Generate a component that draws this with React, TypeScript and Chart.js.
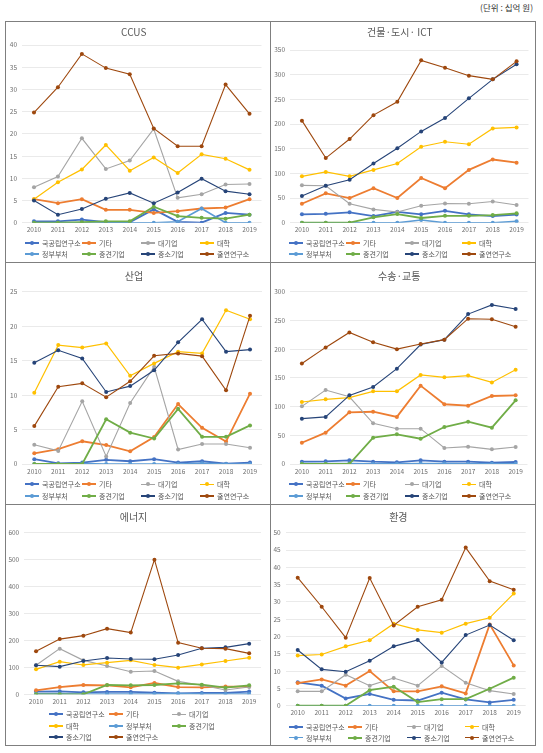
import React, { useEffect, useRef } from "react";
import { Chart, registerables } from "chart.js";

Chart.register(...registerables);

// ---------- data ----------
const years = ["2010", "2011", "2012", "2013", "2014", "2015", "2016", "2017", "2018", "2019"];
const seriesNames = ["국공립연구소", "기타", "대기업", "대학", "정부부처", "중견기업", "중소기업", "출연연구소"];
const seriesColors = ["#4472C4", "#ED7D31", "#A5A5A5", "#FFC000", "#5B9BD5", "#70AD47", "#264478", "#9E480E"];
const seriesWidths = [1.8, 1.8, 1.1, 1.2, 1.6, 1.8, 1.1, 1.1];
const unitText = "(단위 : 십억 원)";

// CCUS
const ccusNatLab = [0.3, 0.3, 0.7, 0.1, 0.1, 3.0, 0.2, 0.0, 2.2, 1.8];
const ccusEtc = [5.3, 4.4, 5.3, 2.9, 2.9, 2.2, 2.6, 3.2, 3.4, 5.3];
const ccusLarge = [8.0, 10.4, 19.0, 12.1, 14.0, 21.1, 5.6, 6.4, 8.6, 8.7];
const ccusUniv = [5.3, 9.1, 12.0, 17.5, 11.7, 14.7, 11.2, 15.4, 14.4, 11.9];
const ccusGov = [0, 0, 0, 0, 0, 0, 0.2, 3.2, 0, 0];
const ccusMid = [0, 0, 0.1, 0.3, 0.3, 3.6, 1.5, 1.1, 0.9, 1.8];
const ccusSme = [5.0, 1.8, 3.1, 5.4, 6.7, 4.4, 6.8, 9.9, 7.1, 6.4];
const ccusGri = [24.8, 30.5, 38.0, 34.8, 33.4, 21.2, 17.2, 17.2, 31.1, 24.5];

// 건물·도시·ICT
const bldNatLab = [17, 18, 21, 13.5, 22, 17, 24, 17, 13.5, 16.5];
const bldEtc = [38.5, 59.5, 50, 70, 50, 90.5, 70, 107, 128, 121.6];
const bldLarge = [75.7, 75, 38.5, 27, 21.6, 34.5, 39, 38.5, 43, 36];
const bldUniv = [94, 103, 94, 107, 120, 154, 164, 159, 191, 193];
const bldGov = [0, 0, 0, 0, 0, 5.4, 0, 0, 0, 3];
const bldMid = [0, 0, 0, 11, 17.5, 9.5, 14, 14, 15.5, 19];
const bldSme = [54, 75, 87, 120, 151, 185, 212, 252, 290.5, 321];
const bldGri = [206.8, 131, 169.6, 218, 245, 329, 314, 298, 290.5, 327];

// 산업
const indNatLab = [0.7, 0.1, 0.2, 0.6, 0.4, 0.7, 0.2, 0.4, 0.05, 0.2];
const indEtc = [1.55, 2.15, 3.3, 2.75, 1.85, 3.9, 8.7, 5.25, 3.25, 10.2];
const indLarge = [2.8, 1.9, 9.1, 1.1, 8.85, 14.1, 2.1, 2.9, 2.9, 2.35];
const indUniv = [10.35, 17.25, 16.9, 17.5, 12.8, 14.6, 16.3, 16.05, 22.3, 21.0];
const indGov = [0, 0, 0.05, 0, 0, 0, 0, 0.1, 0, 0];
const indMid = [0, 0, 0, 6.5, 4.55, 3.7, 8.0, 3.95, 3.95, 5.6];
const indSme = [14.7, 16.5, 15.3, 10.45, 11.3, 13.6, 17.65, 21.0, 16.3, 16.6];
const indGri = [5.5, 11.2, 11.7, 9.7, 12.0, 15.7, 16.05, 15.65, 10.7, 21.5];

// 수송·교통
const trnNatLab = [4, 4.6, 6.4, 4, 3, 6.4, 4, 4, 2.3, 3.5];
const trnEtc = [37, 54.5, 90, 91, 82, 136.4, 104, 101.5, 118.4, 119.5];
const trnLarge = [100.4, 128.8, 117, 70.8, 61.5, 61.5, 27.9, 30.2, 25.5, 29.6];
const trnUniv = [108, 112.6, 115.5, 126.5, 126.5, 155, 151, 154, 142, 164];
const trnGov = [1, 1, 1, 0.5, 0.5, 1, 1, 0.5, 0.5, 0.5];
const trnMid = [0, 0, 0, 45.8, 51.6, 44, 64.4, 73.7, 63.2, 110.8];
const trnSme = [79, 82, 119.5, 134, 166, 208, 216.5, 261, 277, 270];
const trnGri = [175, 203, 229, 212, 200, 209, 216.5, 253, 252, 239];

// 에너지
const enNatLab = [10, 11, 7.4, 8.7, 8.7, 6, 3.7, 5, 5, 10];
const enEtc = [14.8, 27, 34.6, 33.4, 26, 42, 27, 26, 28.5, 28.5];
const enLarge = [107.6, 169.5, 126, 105, 84, 86.6, 48, 33.4, 16, 27];
const enUniv = [92.8, 121, 108.9, 117.5, 126, 108.9, 99, 111, 123.7, 136];
const enGov = [2, 2, 1, 1, 1, 1, 3, 1, 1, 1];
const enMid = [0, 0, 0, 34.6, 33.4, 34.6, 40.8, 35.9, 24.7, 33.4];
const enSme = [107.6, 102.7, 123.7, 134.8, 131, 130, 146, 170.7, 174.4, 188];
const enGri = [159.6, 205, 217.7, 243.7, 229, 500, 191.8, 170.7, 169.5, 152];

// 환경
const envNatLab = [6.75, 5.8, 2.1, 3.4, 1.7, 1.5, 3.75, 1.8, 0.95, 1.7];
const envEtc = [6.55, 7.6, 5.8, 10, 4.15, 4.15, 5.6, 3.55, 23.5, 11.65];
const envLarge = [4.15, 4.15, 8.95, 5.8, 8.0, 5.8, 11.5, 6.65, 4.35, 3.4];
const envUniv = [14.5, 14.8, 17.15, 18.9, 23.7, 21.9, 21.1, 23.7, 25.4, 32.4];
const envGov = [0, 0, 0, 0, 0, 0, 0, 0, 0, 0];
const envMid = [0, 0, 0, 4.5, 5.5, 1.05, 1.9, 1.9, 4.9, 8.1];
const envSme = [16.1, 10.5, 9.8, 13, 17.15, 19, 12.5, 20.4, 23.3, 18.9];
const envGri = [37, 28.6, 19.65, 36.9, 23.2, 28.6, 30.6, 45.7, 36, 33.5];

// ---------- layout ----------
const FONT = "'Noto Sans CJK KR', 'Noto Sans', sans-serif";
const TEXT = "#595959";
const TICK = "#6e6e6e";

type PanelCfg = {
  title: string;
  series: number[][];
  max: number;
  step: number;
  box: { x: number; y: number; w: number; h: number };
  plot: { l: number; r: number; t: number; b: number };
  titleY: number;
  legendRows: number[];
  legendCols: number[];
};

const leftCols = [25, 82, 141, 200];
const rightCols = [289, 346, 405, 462];

const panels: PanelCfg[] = [
  {
    title: "CCUS",
    series: [ccusNatLab, ccusEtc, ccusLarge, ccusUniv, ccusGov, ccusMid, ccusSme, ccusGri],
    max: 40, step: 5,
    box: { x: 5, y: 21, w: 266, h: 242 },
    plot: { l: 22, r: 261.5, t: 45, b: 222.7 },
    titleY: 32,
    legendRows: [243, 254],
    legendCols: leftCols,
  },
  {
    title: "건물·도시· ICT",
    series: [bldNatLab, bldEtc, bldLarge, bldUniv, bldGov, bldMid, bldSme, bldGri],
    max: 350, step: 50,
    box: { x: 270, y: 21, w: 266, h: 242 },
    plot: { l: 290, r: 528.5, t: 50, b: 222.7 },
    titleY: 32,
    legendRows: [243, 254],
    legendCols: rightCols,
  },
  {
    title: "산업",
    series: [indNatLab, indEtc, indLarge, indUniv, indGov, indMid, indSme, indGri],
    max: 25, step: 5,
    box: { x: 5, y: 262, w: 266, h: 243 },
    plot: { l: 22.3, r: 262, t: 291.7, b: 464 },
    titleY: 276,
    legendRows: [484.3, 496],
    legendCols: leftCols,
  },
  {
    title: "수송·교통",
    series: [trnNatLab, trnEtc, trnLarge, trnUniv, trnGov, trnMid, trnSme, trnGri],
    max: 300, step: 50,
    box: { x: 270, y: 262, w: 266, h: 243 },
    plot: { l: 290, r: 527.5, t: 291.7, b: 464 },
    titleY: 276,
    legendRows: [484.3, 496],
    legendCols: rightCols,
  },
  {
    title: "에너지",
    series: [enNatLab, enEtc, enLarge, enUniv, enGov, enMid, enSme, enGri],
    max: 600, step: 100,
    box: { x: 5, y: 504, w: 266, h: 242 },
    plot: { l: 24.2, r: 261, t: 532.7, b: 694.3 },
    titleY: 517.7,
    legendRows: [714.3, 726, 737],
    legendCols: [49, 109, 172],
  },
  {
    title: "환경",
    series: [envNatLab, envEtc, envLarge, envUniv, envGov, envMid, envSme, envGri],
    max: 50, step: 5,
    box: { x: 270, y: 504, w: 266, h: 242 },
    plot: { l: 285.7, r: 525.7, t: 532.7, b: 705.7 },
    titleY: 517.7,
    legendRows: [726.7, 737.7],
    legendCols: [289, 348, 407, 465],
  },
];

function Panel({ cfg }: { cfg: PanelCfg }) {
  const ref = useRef<HTMLCanvasElement>(null);
  const cL = cfg.box.x + 1;
  const cT = cfg.box.y + 1;
  const cW = cfg.box.w - 2;
  const cH = cfg.box.h - 2;

  useEffect(() => {
    if (!ref.current) return;
    const lineH = 12;
    const xAxisH = 14;
    const tPadTop = cfg.titleY - cT - lineH / 2;
    const tPadBottom = cfg.plot.t - cT - lineH - tPadTop;
    const chart = new Chart(ref.current, {
      type: "line",
      data: {
        labels: years,
        datasets: cfg.series.map((d, i) => ({
          label: seriesNames[i],
          data: d,
          borderColor: seriesColors[i],
          backgroundColor: seriesColors[i],
          pointBackgroundColor: seriesColors[i],
          pointBorderColor: seriesColors[i],
          borderWidth: seriesWidths[i],
          pointRadius: 2,
          pointBorderWidth: 0,
          tension: 0,
          order: 8 - i,
        })),
      },
      options: {
        animation: false,
        responsive: false,
        maintainAspectRatio: false,
        layout: {
          padding: {
            left: 0,
            top: 0,
            right: cL + cW - cfg.plot.r,
            bottom: cT + cH - cfg.plot.b - xAxisH,
          },
        },
        plugins: {
          legend: { display: false },
          tooltip: { enabled: false },
          title: {
            display: true,
            text: cfg.title,
            color: TEXT,
            font: { size: 10, family: FONT, weight: "normal", lineHeight: 1.2 },
            padding: { top: tPadTop, bottom: tPadBottom },
          },
        },
        scales: {
          x: {
            offset: true,
            grid: { display: false, drawTicks: false },
            border: { display: false },
            ticks: {
              color: TICK,
              font: { size: 6.5, family: FONT },
              padding: 3.4,
              maxRotation: 0,
              autoSkip: false,
            },
            afterFit: (s: any) => {
              s.height = xAxisH;
            },
          },
          y: {
            min: 0,
            max: cfg.max,
            ticks: {
              stepSize: cfg.step,
              color: TICK,
              font: { size: 6.5, family: FONT },
              padding: 5,
            },
            grid: { color: "#e4e4e4", lineWidth: 0.8, drawTicks: false },
            border: { display: false },
            afterFit: (s: any) => {
              s.width = cfg.plot.l - cL;
            },
          },
        },
      },
    } as any);
    return () => chart.destroy();
  }, []);

  const perRow = cfg.legendCols.length;
  return (
    <div
      style={{
        position: "absolute",
        left: cfg.box.x,
        top: cfg.box.y,
        width: cfg.box.w,
        height: cfg.box.h,
        boxSizing: "border-box",
        border: "1px solid #7f7f7f",
      }}
    >
      <canvas
        ref={ref}
        width={cW}
        height={cH}
        style={{ position: "absolute", left: 0, top: 0, width: cW, height: cH, display: "block" }}
      />
      {seriesNames.map((name, i) => {
        const row = Math.floor(i / perRow);
        const col = i % perRow;
        const x = cfg.legendCols[col] - cL;
        const y = cfg.legendRows[row] - cT;
        const lw = Math.max(1.2, seriesWidths[i]);
        return (
          <div
            key={name}
            style={{
              position: "absolute",
              left: x,
              top: y - 5,
              height: 10,
              display: "flex",
              alignItems: "center",
              whiteSpace: "nowrap",
            }}
          >
            <span
              style={{
                position: "relative",
                display: "inline-block",
                width: 14,
                height: lw,
                background: seriesColors[i],
              }}
            >
              <span
                style={{
                  position: "absolute",
                  left: 5,
                  top: lw / 2 - 2,
                  width: 4,
                  height: 4,
                  borderRadius: 2,
                  background: seriesColors[i],
                }}
              />
            </span>
            <span
              style={{
                marginLeft: 3,
                fontSize: 7,
                lineHeight: "10px",
                color: TEXT,
                fontFamily: FONT,
              }}
            >
              {name}
            </span>
          </div>
        );
      })}
    </div>
  );
}

export default function App() {
  return (
    <div
      style={{
        position: "absolute",
        left: 0,
        top: 0,
        width: 543,
        height: 753,
        background: "#ffffff",
        fontFamily: FONT,
      }}
    >
      <div
        style={{
          position: "absolute",
          left: 380,
          top: 1,
          width: 153,
          textAlign: "right",
          fontSize: 8.5,
          lineHeight: "12px",
          color: "#333333",
          whiteSpace: "nowrap",
        }}
      >
        {unitText}
      </div>
      {panels.map((p) => (
        <Panel key={p.title} cfg={p} />
      ))}
    </div>
  );
}
